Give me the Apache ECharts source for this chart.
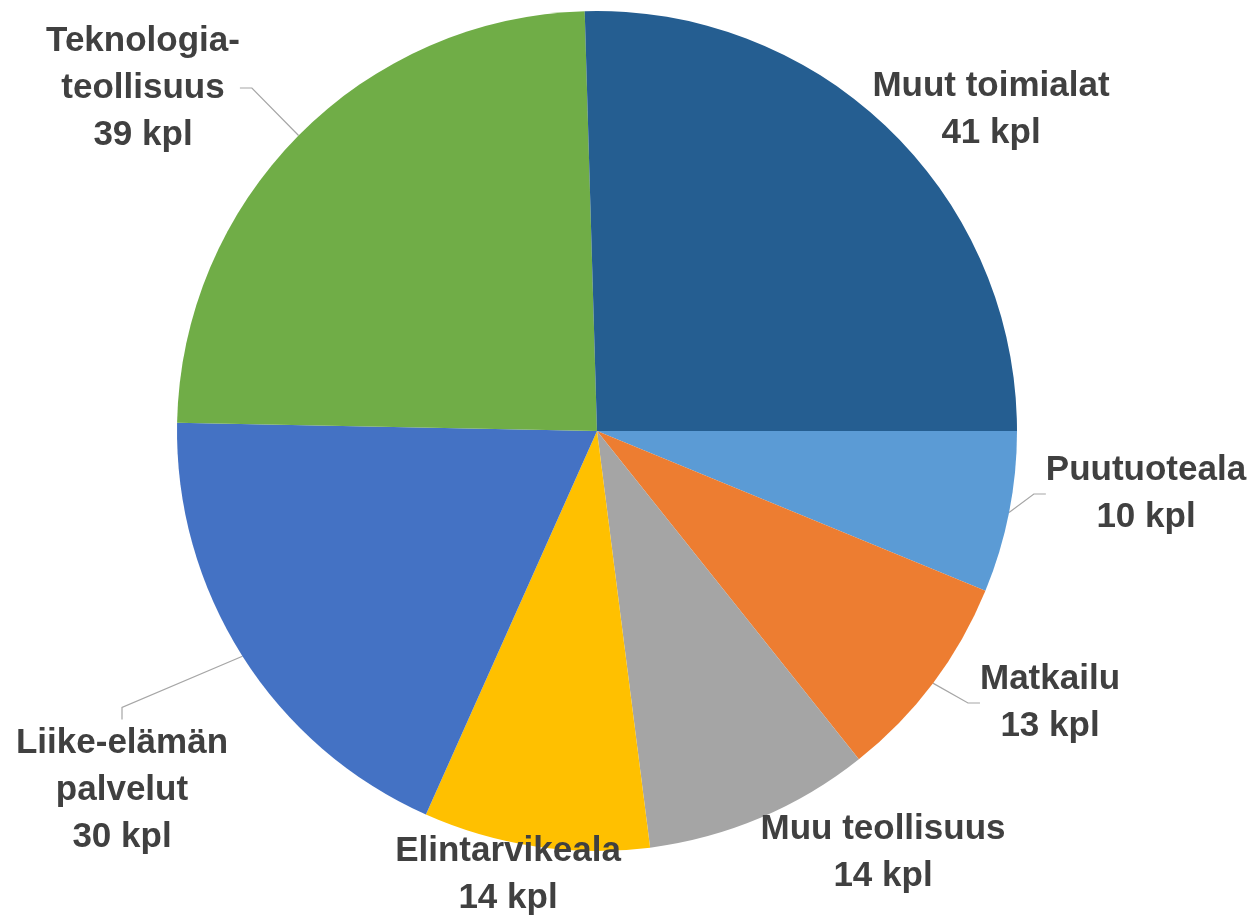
<!DOCTYPE html>
<html>
<head>
<meta charset="utf-8">
<script src="https://cdn.jsdelivr.net/npm/echarts@6/dist/echarts.min.js"></script>
<style>
  html, body { margin: 0; padding: 0; background: #fff; }
  #pie { width: 1253px; height: 918px; }
</style>
</head>
<body>
<div id="pie"></div>
<script>
// toimialat, myötäpäivään klo 3:sta alkaen
const names = ['Puutuoteala', 'Matkailu', 'Muu teollisuus', 'Elintarvikeala',
  'Liike-elämän\npalvelut', 'Teknologia-\nteollisuus', 'Muut toimialat'];
const counts = [10, 13, 14, 14, 30, 39, 41];
const colors = ['#5B9BD5', '#ED7D31', '#A5A5A5', '#FFC000', '#4472C4', '#70AD47', '#255E91'];

// selitteiden keskipisteet (px) ja näytetäänkö viiva
const labelPos = [[1146, 494], [1050, 703], [883, 853], [508, 875], [122, 790], [143, 88], [991, 110]];
const showLine = [true, true, false, false, true, true, false];

const seriesData = [];
for (let i = 0; i < names.length; i++) {
  seriesData.push({
    name: names[i],
    value: counts[i],
    itemStyle: { color: colors[i] },
    labelLine: { show: showLine[i] }
  });
}

const pieOption = {
  animation: false,
  series: [
    {
      type: 'pie',
      center: [597, 431],
      radius: 420,
      startAngle: 0,
      clockwise: true,
      avoidLabelOverlap: false,
      data: seriesData,
      label: {
        show: true,
        position: 'outside',
        formatter: '{b}\n{c} kpl',
        color: '#404040',
        fontFamily: 'Liberation Sans, Arial, sans-serif',
        fontWeight: 'bold',
        fontSize: 35,
        lineHeight: 47,
        align: 'center'
      },
      labelLine: {
        length: 10,
        length2: 12,
        smooth: false,
        lineStyle: { color: '#A6A6A6', width: 1.2 }
      },
      labelLayout: function (params) {
        const p = labelPos[params.dataIndex];
        return { x: p[0], y: p[1], align: 'center', verticalAlign: 'middle' };
      }
    }
  ]
};

const pieChart = echarts.init(document.getElementById('pie'));
pieChart.setOption(pieOption);
</script>
</body>
</html>
